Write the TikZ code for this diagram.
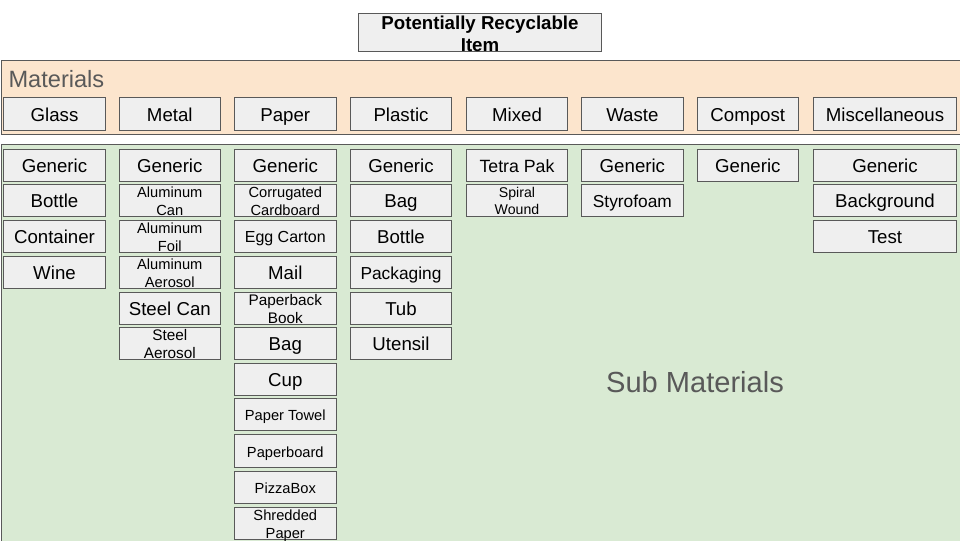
\documentclass[tikz,border=0pt]{standalone}
\usepackage{fontspec}
\setmainfont{Liberation Sans}
\definecolor{boxfill}{HTML}{EFEFEF}
\definecolor{bordergray}{HTML}{595959}
\definecolor{peach}{HTML}{FCE5CD}
\definecolor{lightgreen}{HTML}{D9EAD3}
\definecolor{labelgray}{HTML}{595959}
\newcommand{\ms}{\rule[-0.212em]{0pt}{1.117em}}
\tikzset{
  box/.style={draw=bordergray, fill=boxfill, line width=0.75pt, inner sep=0pt, minimum height=24pt},
  lbl/.style={inner sep=0pt, align=center, text=black, yshift=-0.85pt},
  band/.style={draw=bordergray, line width=0.75pt},
}
% name, x, y, width(px), height(px), fontsize(pt), text
\newcommand{\bx}[7]{%
  \node[box, minimum width=#4*0.75pt, minimum height=#5*0.75pt] (#1) at (#2,#3) {};
  \node[lbl, font={\fontsize{#6pt}{#6pt}\selectfont\baselineskip=1.2em}] (#1t) at (#1.center) {#7};
}
\begin{document}
\begin{tikzpicture}[x=0.75pt, y=-0.75pt]
\useasboundingbox (0,0) rectangle (960,540);
% bands
\path[band, fill=peach] (1,60.3) rectangle (965,134.3);
\path[band, fill=lightgreen] (1,144.3) rectangle (965,545);
\node[anchor=base west, inner sep=0pt, text=labelgray, font=\fontsize{17.7pt}{20pt}\selectfont] (mat) at (8.3,87.3) {Materials};
\node[anchor=base west, inner sep=0pt, text=labelgray, font=\fontsize{21.8pt}{25pt}\selectfont] (sub) at (605.9,392.3) {Sub Materials};
% title
\node[box, minimum width=182.5pt, minimum height=28.5pt] (title) at (480,32.3) {};
\node[lbl, yshift=-0.4pt, font={\bfseries\fontsize{14pt}{16pt}\selectfont\baselineskip=16.5pt}] (titlet) at (title.center) {\ms Potentially Recyclable\\\ms Item};
% materials row
\bx{mglass}{54.5}{113.8}{102.4}{33}{14}{\ms Glass}
\bx{mmetal}{169.8}{113.8}{101}{33}{14}{\ms Metal}
\bx{mpaper}{285.3}{113.8}{102}{33}{14}{\ms Paper}
\bx{mplastic}{401}{113.8}{101.4}{33}{14}{\ms Plastic}
\bx{mmixed}{517}{113.8}{101.4}{33}{14}{\ms Mixed}
\bx{mwaste}{632.4}{113.8}{102.2}{33}{14}{\ms Waste}
\bx{mcompost}{747.8}{113.8}{101}{33}{14}{\ms Compost}
\bx{mmisc}{885}{113.8}{143.4}{33}{14}{\ms Miscellaneous}
% Glass
\bx{g1}{54.5}{165.3}{102.4}{32}{14}{\ms Generic}
\bx{g2}{54.5}{200.3}{102.4}{32}{14}{\ms Bottle}
\bx{g3}{54.5}{236.3}{102.4}{32}{14}{\ms Container}
\bx{g4}{54.5}{272.3}{102.4}{32}{14}{\ms Wine}
% Metal
\bx{t1}{169.8}{165.3}{101}{32}{14}{\ms Generic}
\bx{t2}{169.8}{200.3}{101}{32}{11}{\ms Aluminum\\\ms Can}
\bx{t3}{169.8}{236.3}{101}{32}{11}{\ms Aluminum\\\ms Foil}
\bx{t4}{169.8}{272.3}{101}{32}{11}{\ms Aluminum\\\ms Aerosol}
\bx{t5}{169.8}{308.3}{101}{32}{14}{\ms Steel Can}
\bx{t6}{169.8}{343.3}{101}{32}{11.5}{\ms Steel\\\ms Aerosol}
% Paper
\bx{p1}{285.3}{165.3}{102}{32}{14}{\ms Generic}
\bx{p2}{285.3}{200.3}{102}{32}{11}{\ms Corrugated\\\ms Cardboard}
\bx{p3}{285.3}{236.3}{102}{32}{12}{\ms Egg Carton}
\bx{p4}{285.3}{272.3}{102}{32}{14}{\ms Mail}
\bx{p5}{285.3}{308.3}{102}{32}{11.5}{\ms Paperback\\\ms Book}
\bx{p6}{285.3}{343.3}{102}{32}{14}{\ms Bag}
\bx{p7}{285.3}{379.3}{102}{32}{14}{\ms Cup}
\bx{p8}{285.3}{414.3}{102}{32}{11}{\ms Paper Towel}
\bx{p9}{285.3}{450.8}{102}{33}{11}{\ms Paperboard}
\bx{p10}{285.3}{487.3}{102}{32}{11}{\ms PizzaBox}
\bx{p11}{285.3}{523.3}{102}{32}{11}{\ms Shredded\\\ms Paper}
% Plastic
\bx{l1}{401}{165.3}{101.4}{32}{14}{\ms Generic}
\bx{l2}{401}{200.3}{101.4}{32}{14}{\ms Bag}
\bx{l3}{401}{236.3}{101.4}{32}{14}{\ms Bottle}
\bx{l4}{401}{272.3}{101.4}{32}{13}{\ms Packaging}
\bx{l5}{401}{308.3}{101.4}{32}{14}{\ms Tub}
\bx{l6}{401}{343.3}{101.4}{32}{14}{\ms Utensil}
% Mixed
\bx{x1}{517}{165.3}{101.4}{32}{13.3}{\ms Tetra Pak}
\bx{x2}{517}{200.3}{101.4}{32}{10.6}{\ms Spiral\\\ms Wound}
% Waste
\bx{w1}{632.4}{165.3}{102.2}{32}{14}{\ms Generic}
\bx{w2}{632.4}{200.3}{102.2}{32}{13}{\ms Styrofoam}
% Compost
\bx{c1}{747.8}{165.3}{101}{32}{14}{\ms Generic}
% Miscellaneous
\bx{s1}{885}{165.3}{143.4}{32}{14}{\ms Generic}
\bx{s2}{885}{200.3}{143.4}{32}{14}{\ms Background}
\bx{s3}{885}{236.3}{143.4}{32}{14}{\ms Test}
\end{tikzpicture}
\end{document}
